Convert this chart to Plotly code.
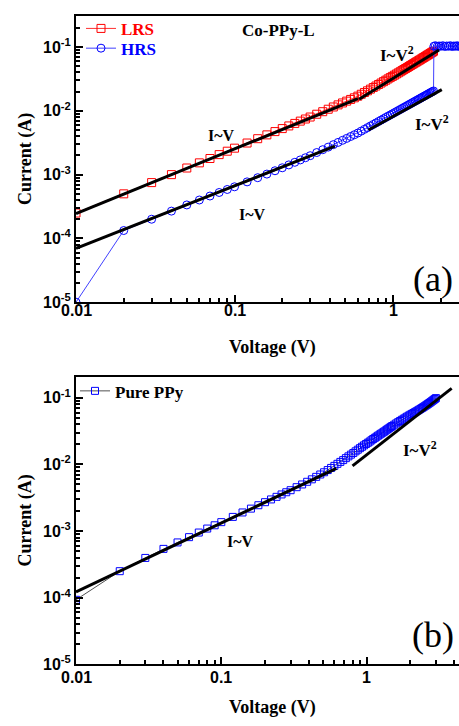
import math
import plotly.graph_objects as go

# ---------------- data ----------------
V_top = [0.01, 0.02, 0.03, 0.04, 0.05, 0.06, 0.07, 0.08, 0.09, 0.10,
         0.12, 0.14, 0.16, 0.18, 0.20, 0.22, 0.24, 0.26, 0.28, 0.30,
         0.33, 0.36, 0.39, 0.42, 0.45, 0.48, 0.51, 0.54, 0.57, 0.60,
         0.63, 0.66, 0.69, 0.72, 0.75, 0.78, 0.81, 0.84, 0.87, 0.90,
         0.93, 0.96, 0.99, 1.02, 1.05, 1.08, 1.11, 1.14, 1.17, 1.20,
         1.23, 1.26, 1.29, 1.32, 1.35, 1.38, 1.41, 1.44, 1.47, 1.50,
         1.53, 1.56, 1.59, 1.62, 1.65, 1.68, 1.71, 1.74, 1.77, 1.80]

I_lrs = [2.5e-4, 5.0e-4, 7.5e-4, 1.0e-3, 1.27e-3, 1.53e-3, 1.79e-3, 2.06e-3, 2.33e-3, 2.6e-3,
         3.13e-3, 3.66e-3, 4.2e-3, 4.73e-3, 5.27e-3, 5.8e-3, 6.35e-3, 6.9e-3, 7.45e-3, 8.0e-3,
         8.85e-3, 9.7e-3, 1.06e-2, 1.15e-2, 1.24e-2, 1.33e-2, 1.42e-2, 1.51e-2, 1.6e-2, 1.7e-2,
         1.82e-2, 1.94e-2, 2.06e-2, 2.19e-2, 2.32e-2, 2.45e-2, 2.59e-2, 2.73e-2, 2.87e-2, 3.02e-2,
         3.17e-2, 3.32e-2, 3.47e-2, 3.62e-2, 3.78e-2, 3.94e-2, 4.1e-2, 4.27e-2, 4.44e-2, 4.61e-2,
         4.78e-2, 4.96e-2, 5.14e-2, 5.32e-2, 5.5e-2, 5.69e-2, 5.88e-2, 6.07e-2, 6.26e-2, 6.46e-2,
         6.66e-2, 6.86e-2, 7.06e-2, 7.27e-2, 7.48e-2, 7.69e-2, 7.9e-2, 8.12e-2, 8.34e-2, 8.6e-2]

I_hrs = [1.0e-5, 1.33e-4, 2.0e-4, 2.68e-4, 3.35e-4, 4.0e-4, 4.62e-4, 5.25e-4, 5.85e-4, 6.45e-4,
         7.7e-4, 8.95e-4, 1.02e-3, 1.15e-3, 1.28e-3, 1.42e-3, 1.56e-3, 1.7e-3, 1.84e-3, 1.98e-3,
         2.22e-3, 2.46e-3, 2.70e-3, 2.95e-3, 3.2e-3, 3.45e-3, 3.7e-3, 3.96e-3, 4.22e-3, 4.49e-3,
         4.81e-3, 5.13e-3, 5.46e-3, 5.79e-3, 6.12e-3, 6.46e-3, 6.81e-3, 7.16e-3, 7.52e-3, 7.88e-3,
         8.24e-3, 8.61e-3, 8.98e-3, 9.36e-3, 9.74e-3, 1.013e-2, 1.052e-2, 1.091e-2, 1.131e-2, 1.171e-2,
         1.212e-2, 1.253e-2, 1.294e-2, 1.336e-2, 1.378e-2, 1.42e-2, 1.463e-2, 1.506e-2, 1.55e-2, 1.594e-2,
         1.638e-2, 1.682e-2, 1.727e-2, 1.772e-2, 1.818e-2, 1.864e-2, 1.91e-2, 1.956e-2, 2.003e-2, 2.05e-2]

# HRS after SET: current compliance
V_comp = [1.81, 1.85, 1.90, 1.95, 2.00, 2.06, 2.12, 2.18, 2.24, 2.30,
          2.36, 2.42, 2.48, 2.54, 2.60, 2.66, 2.72, 2.78, 2.84, 2.90]
I_comp = [0.103, 0.105, 0.102, 0.104, 0.103, 0.105, 0.102, 0.104, 0.103, 0.105,
          0.102, 0.104, 0.103, 0.105, 0.102, 0.104, 0.103, 0.105, 0.102, 0.104]

# fit lines (a)
fit_lrs_v_V = [0.01, 0.60]
fit_lrs_v_I = [2.45e-4, 1.55e-2]
fit_lrs_v2_V = [0.61, 1.95]
fit_lrs_v2_I = [1.52e-2, 0.090]
fit_hrs_v_V = [0.01, 0.43]
fit_hrs_v_I = [7.0e-5, 2.8e-3]
fit_hrs_v2_V = [0.70, 2.03]
fit_hrs_v2_I = [5.0e-3, 2.15e-2]

# Pure PPy (b)
V_ppy = [0.01, 0.02, 0.03, 0.04, 0.05, 0.06, 0.07, 0.08, 0.09, 0.10,
         0.12, 0.14, 0.16, 0.18, 0.20, 0.22, 0.24, 0.26, 0.28, 0.30,
         0.33, 0.36, 0.39, 0.42, 0.45, 0.48, 0.51, 0.54, 0.57, 0.60,
         0.63, 0.66, 0.69, 0.72, 0.75, 0.78, 0.81, 0.84, 0.87, 0.90,
         0.93, 0.96, 0.99, 1.02, 1.05, 1.08, 1.11, 1.14, 1.17, 1.20,
         1.23, 1.26, 1.29, 1.32, 1.35, 1.38, 1.41, 1.44, 1.47, 1.50,
         1.55, 1.60, 1.65, 1.70, 1.75, 1.80, 1.85, 1.90, 1.95, 2.00,
         2.05, 2.10, 2.15, 2.20, 2.25, 2.30, 2.35, 2.40, 2.45, 2.50,
         2.55, 2.60, 2.65, 2.70, 2.75, 2.80, 2.85, 2.90, 2.95, 3.00]
I_ppy = [9.3e-5, 2.5e-4, 3.95e-4, 5.4e-4, 6.75e-4, 8.1e-4, 9.5e-4, 1.09e-3, 1.22e-3, 1.36e-3,
         1.63e-3, 1.9e-3, 2.17e-3, 2.44e-3, 2.71e-3, 2.98e-3, 3.26e-3, 3.54e-3, 3.82e-3, 4.1e-3,
         4.55e-3, 5.0e-3, 5.48e-3, 5.97e-3, 6.5e-3, 7.05e-3, 7.62e-3, 8.22e-3, 8.85e-3, 9.5e-3,
         1.02e-2, 1.09e-2, 1.16e-2, 1.24e-2, 1.32e-2, 1.4e-2, 1.48e-2, 1.57e-2, 1.66e-2, 1.75e-2,
         1.84e-2, 1.93e-2, 2.02e-2, 2.11e-2, 2.2e-2, 2.3e-2, 2.4e-2, 2.5e-2, 2.6e-2, 2.7e-2,
         2.8e-2, 2.9e-2, 3.0e-2, 3.1e-2, 3.21e-2, 3.32e-2, 3.43e-2, 3.54e-2, 3.65e-2, 3.76e-2,
         3.94e-2, 4.12e-2, 4.3e-2, 4.48e-2, 4.66e-2, 4.84e-2, 5.02e-2, 5.2e-2, 5.38e-2, 5.56e-2,
         5.72e-2, 5.89e-2, 6.06e-2, 6.24e-2, 6.42e-2, 6.61e-2, 6.8e-2, 7.0e-2, 7.2e-2, 7.41e-2,
         7.63e-2, 7.85e-2, 8.08e-2, 8.31e-2, 8.55e-2, 8.8e-2, 9.06e-2, 9.32e-2, 9.59e-2, 9.87e-2]

fit_ppy_v_V = [0.01, 0.62]
fit_ppy_v_I = [1.22e-4, 8.7e-3]
fit_ppy_v2_V = [0.80, 3.85]
fit_ppy_v2_I = [9.5e-3, 0.138]

x_major = [0.01, 0.1, 1]
x_major_text = ["0.01", "0.1", "1"]
x_minor = [0.02, 0.03, 0.04, 0.05, 0.06, 0.07, 0.08, 0.09,
           0.2, 0.3, 0.4, 0.5, 0.6, 0.7, 0.8, 0.9, 2, 3, 4]
y_major = [1e-5, 1e-4, 1e-3, 1e-2, 1e-1]
y_major_text = ["10<sup>-5</sup>", "10<sup>-4</sup>", "10<sup>-3</sup>",
                "10<sup>-2</sup>", "10<sup>-1</sup>"]
y_minor = [m * 10.0 ** e for e in range(-5, 0) for m in range(2, 10)]

# ---------------- layout helpers ----------------
W, H = 459, 726
def px(x):
    return x / W
def py(y):
    return 1 - y / H

SERIF = "Liberation Serif, Times New Roman, serif"
SANS = "Liberation Sans, Arial, sans-serif"

fig = go.Figure()

# (a)
fig.add_trace(go.Scatter(x=V_top, y=I_lrs, mode="lines+markers", name='<span style="color:#ff0000">LRS</span>',
                         line=dict(color="#ff3030", width=1),
                         marker=dict(symbol="square-open", size=8, color="#ff0000", line=dict(width=1)),
                         xaxis="x", yaxis="y", legend="legend"))
fig.add_trace(go.Scatter(x=V_top + V_comp, y=I_hrs + I_comp, mode="lines+markers",
                         name='<span style="color:#0000ff">HRS</span>',
                         line=dict(color="#4040ff", width=1),
                         marker=dict(symbol="circle-open", size=8, color="#0000ff", line=dict(width=1)),
                         xaxis="x", yaxis="y", legend="legend3"))
for fx, fy in [(fit_lrs_v_V, fit_lrs_v_I), (fit_lrs_v2_V, fit_lrs_v2_I),
               (fit_hrs_v_V, fit_hrs_v_I), (fit_hrs_v2_V, fit_hrs_v2_I)]:
    fig.add_trace(go.Scatter(x=fx, y=fy, mode="lines", line=dict(color="black", width=3),
                             showlegend=False, xaxis="x", yaxis="y"))

# (b)
fig.add_trace(go.Scatter(x=V_ppy, y=I_ppy, mode="lines+markers", name="Pure PPy",
                         line=dict(color="#505050", width=1),
                         marker=dict(symbol="square-open", size=7, color="#0000ff", line=dict(width=1)),
                         xaxis="x2", yaxis="y2", legend="legend2"))
for fx, fy in [(fit_ppy_v_V, fit_ppy_v_I), (fit_ppy_v2_V, fit_ppy_v2_I)]:
    fig.add_trace(go.Scatter(x=fx, y=fy, mode="lines", line=dict(color="black", width=3),
                             showlegend=False, xaxis="x2", yaxis="y2"))

tickfont = dict(family=SANS, size=16, color="black", weight="bold")

def xax(domain, rng, anchor):
    return dict(type="log", domain=domain, range=rng, anchor=anchor,
                showline=True, linewidth=2, linecolor="black", mirror=True,
                showgrid=False, zeroline=False,
                tickmode="array", tickvals=x_major, showticklabels=False,
                ticks="inside", ticklen=7, tickwidth=1.5, tickcolor="black",
                minor=dict(tickmode="array", tickvals=x_minor, ticks="inside",
                           ticklen=4, tickwidth=1.5, tickcolor="black", showgrid=False))

def yax(domain, rng, anchor):
    return dict(type="log", domain=domain, range=rng, anchor=anchor,
                showline=True, linewidth=2, linecolor="black", mirror=False,
                showgrid=False, zeroline=False,
                tickmode="array", tickvals=y_major, ticktext=y_major_text,
                ticks="inside", ticklen=7, tickwidth=1.5, tickcolor="black",
                tickfont=tickfont,
                minor=dict(tickmode="array", tickvals=y_minor, ticks="inside",
                           ticklen=4, tickwidth=1.5, tickcolor="black", showgrid=False))

legfont = dict(family=SERIF, size=17, weight="bold", color="black")
fig.update_layout(
    width=W, height=H, margin=dict(l=0, r=0, t=0, b=0),
    paper_bgcolor="white", plot_bgcolor="white",
    xaxis=xax([px(76), 1], [-2, 0.416], "y"),
    yaxis=yax([py(306), py(16)], [-5, -0.51], "x"),
    xaxis2=xax([px(76), 1], [-2, 0.636], "y2"),
    yaxis2=yax([py(672.7), py(382)], [-5, -0.693], "x2"),
    legend=dict(x=px(81), y=py(11), xanchor="left", yanchor="top",
                bgcolor="rgba(0,0,0,0)", font=legfont, tracegroupgap=0),
    legend3=dict(x=px(81), y=py(31), xanchor="left", yanchor="top",
                 bgcolor="rgba(0,0,0,0)", font=legfont, tracegroupgap=0),
    legend2=dict(x=px(75), y=py(378), xanchor="left", yanchor="top",
                 bgcolor="rgba(0,0,0,0)", font=legfont, tracegroupgap=0),
    showlegend=True,
)

def ann(text, x, y, size=17, bold=True, family=SERIF, angle=0):
    fig.add_annotation(text=text, x=px(x), y=py(y), xref="paper", yref="paper",
                       showarrow=False, textangle=angle, xanchor="center", yanchor="middle",
                       font=dict(family=family, size=size, color="black",
                                 weight="bold" if bold else "normal"))

# x tick labels (placed at the tick values of each x axis)
for xref, ylab in [("x", 314), ("x2", 686)]:
    for v, t in zip(x_major, x_major_text):
        fig.add_annotation(text=t, x=math.log10(v), y=py(ylab), xref=xref, yref="paper",
                           showarrow=False, xanchor="center", yanchor="middle",
                           font=tickfont)

ann("Co-PPy-L", 278, 31)
ann("I~V<sup>2</sup>", 397, 55)
ann("I~V<sup>2</sup>", 432, 125)
ann("I~V", 221, 137, size=16)
ann("I~V", 253, 217, size=16)
ann("(a)", 433, 283, size=36, bold=False)
ann("Voltage (V)", 272, 352, size=18)
ann("Current (A)", 25, 161, size=18, angle=-90)

ann("I~V<sup>2</sup>", 420, 455)
ann("I~V", 240, 548, size=16)
ann("(b)", 433, 643, size=36, bold=False)
ann("Voltage (V)", 272, 716, size=18)
ann("Current (A)", 25, 527, size=18, angle=-90)

fig.write_html("out.html")
